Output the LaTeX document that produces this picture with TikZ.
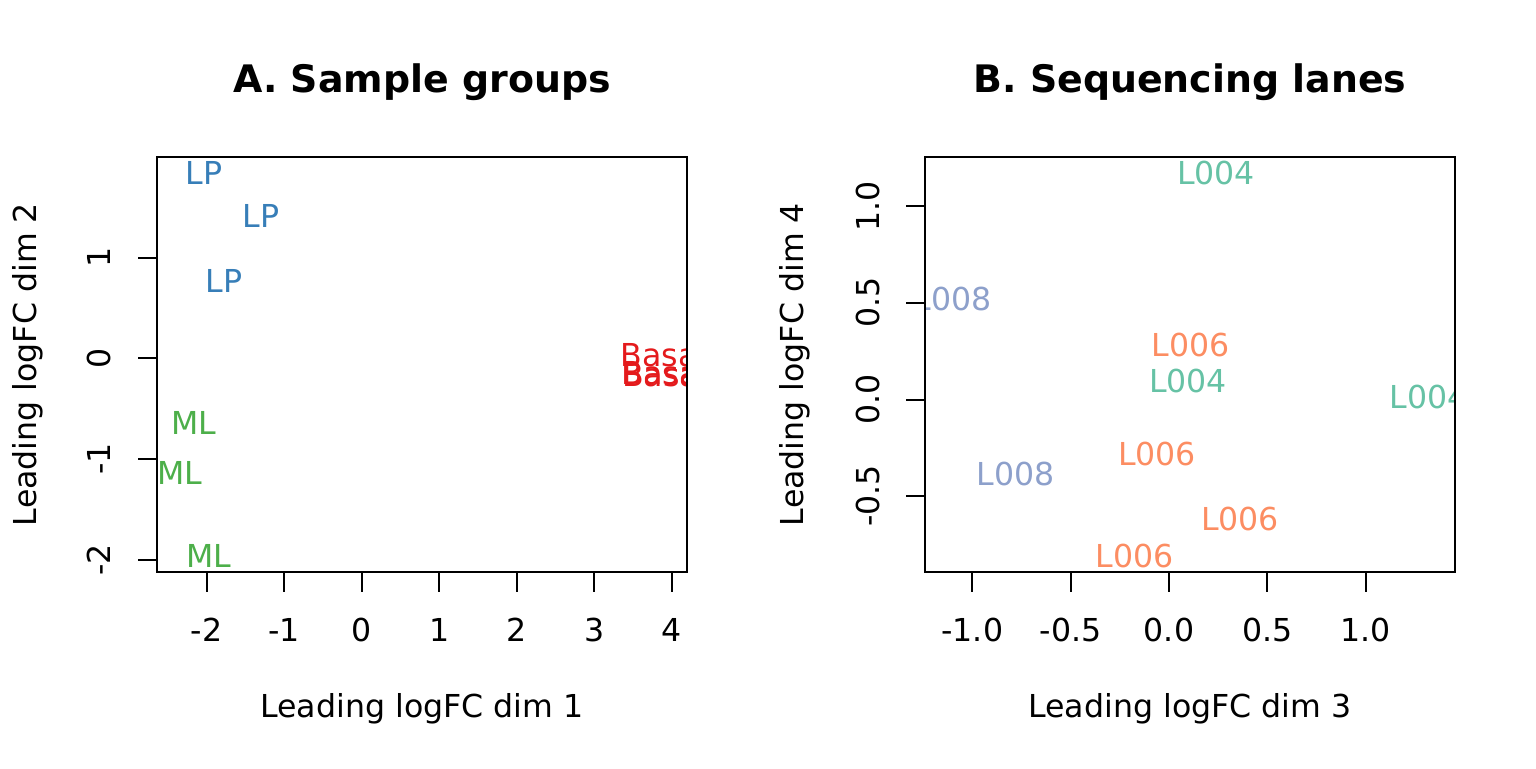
\documentclass[tikz,border=0pt]{standalone}
\usepackage{fontspec}
\setmainfont{DejaVu Sans}
\usepackage{tikz}
\definecolor{lpblue}{HTML}{377EB8}
\definecolor{mlgreen}{HTML}{4DAF4A}
\definecolor{basalred}{HTML}{E41A1C}
\definecolor{lanefour}{HTML}{66C2A5}
\definecolor{lanesix}{HTML}{FC8D62}
\definecolor{laneeight}{HTML}{8DA0CB}
\tikzset{
  pt/.style={inner sep=0pt, text height=11.5pt, text depth=0pt, font=\fontsize{15.8}{18}\selectfont},
  ticklab/.style={inner sep=0pt, anchor=base, font=\fontsize{15.8}{18}\selectfont},
  axlab/.style={inner sep=0pt, anchor=base, font=\fontsize{15.8}{18}\selectfont},
  ttl/.style={inner sep=0pt, anchor=base, font=\fontsize{18.95}{22}\selectfont\bfseries},
  frame/.style={line width=1pt}
}
\begin{document}
\begin{tikzpicture}[x=0.5pt,y=-0.5pt]

  \useasboundingbox (0,0) rectangle (1536,768);

  \newcommand\Ax{361.7}; \newcommand\Asx{77.5};   % panel A, x
  \newcommand\Ay{358.3}; \newcommand\Asy{100.7};  % panel A, y
  \newcommand\Bx{1169};  \newcommand\Bsx{196.7};  % panel B, x
  \newcommand\By{399.5}; \newcommand\Bsy{193.3};  % panel B, y

  %% panel A
  \node[ttl] (ttlA) at (422,92.3) {A. Sample groups};
  \begin{scope}
    \clip (157,157) rectangle (687,572);
    \begin{scope}[shift={(180.85pt,-179.15pt)}, x=38.75pt, y=50.35pt]
      \node[pt, text=lpblue] (lpA) at (-2.035, 1.845) {LP};
      \node[pt, text=lpblue] (lpB) at (-1.30, 1.41) {LP};
      \node[pt, text=lpblue] (lpC) at (-1.78, 0.765) {LP};
      \node[pt, text=mlgreen] (mlA) at (-2.164, -0.638) {ML};
      \node[pt, text=mlgreen] (mlB) at (-2.345, -1.142) {ML};
      \node[pt, text=mlgreen] (mlC) at (-1.974, -1.966) {ML};
      \node[pt, text=basalred] (basalA) at (3.894, 0.035) {Basal};
      \node[pt, text=basalred] (basalB) at (3.905, -0.150) {Basal};
      \node[pt, text=basalred] (basalC) at (3.915, -0.165) {Basal};
    \end{scope}
  \end{scope}
  \draw[frame] (157,157) rectangle (687,572);

  \foreach \v in {-2,...,4}{
    \draw[frame] ({\Ax+\Asx*(\v)}, 572) -- ++(0,19.5);
    \node[ticklab] (xtA\v) at ({\Ax+\Asx*(\v)}, 641) {\v};
  }
  \foreach \v in {-2,...,1}{
    \draw[frame] (157, {\Ay-\Asy*(\v)}) -- ++(-19,0);
    \node[ticklab, rotate=90] (ytA\v) at (110, {\Ay-\Asy*(\v)}) {\v};
  }
  \node[axlab] (xlabA) at (422,717.7) {Leading logFC dim 1};
  \node[axlab, rotate=90] (ylabA) at (36.7,364.5) {Leading logFC dim 2};

  %% panel B
  \node[ttl] (ttlB) at (1190,92.3) {B. Sequencing lanes};
  \begin{scope}
    \clip (925,157) rectangle (1455,572);
    \begin{scope}[shift={(584.5pt,-199.75pt)}, x=98.35pt, y=96.65pt]
      \node[pt, text=lanefour] (lfourA) at (0.239, 1.172) {L004};
      \node[pt, text=laneeight] (leightA) at (-1.099, 0.521) {L008};
      \node[pt, text=lanesix] (lsixA) at (0.109, 0.280) {L006};
      \node[pt, text=lanefour] (lfourB) at (0.097, 0.097) {L004};
      \node[pt, text=lanefour] (lfourC) at (1.319, 0.0145) {L004};
      \node[pt, text=lanesix] (lsixB) at (-0.061, -0.280) {L006};
      \node[pt, text=laneeight] (leightB) at (-0.781, -0.384) {L008};
      \node[pt, text=lanesix] (lsixC) at (0.361, -0.617) {L006};
      \node[pt, text=lanesix] (lsixD) at (-0.174, -0.811) {L006};
    \end{scope}
  \end{scope}
  \draw[frame] (925,157) rectangle (1455,572);

  \foreach \v/\t [count=\i] in {-1/-1.0,-0.5/-0.5,0/0.0,0.5/0.5,1/1.0}{
    \draw[frame] ({\Bx+\Bsx*(\v)}, 572) -- ++(0,19.5);
    \node[ticklab] (xtB\i) at ({\Bx+\Bsx*(\v)}, 641) {\t};
  }
  \foreach \v/\t [count=\i] in {-0.5/-0.5,0/0.0,0.5/0.5,1/1.0}{
    \draw[frame] (925, {\By-\Bsy*(\v)}) -- ++(-19,0);
    \node[ticklab, rotate=90] (ytB\i) at (879, {\By-\Bsy*(\v)}) {\t};
  }
  \node[axlab] (xlabB) at (1190,717.7) {Leading logFC dim 3};
  \node[axlab, rotate=90] (ylabB) at (803.5,364.5) {Leading logFC dim 4};

\end{tikzpicture}
\end{document}
